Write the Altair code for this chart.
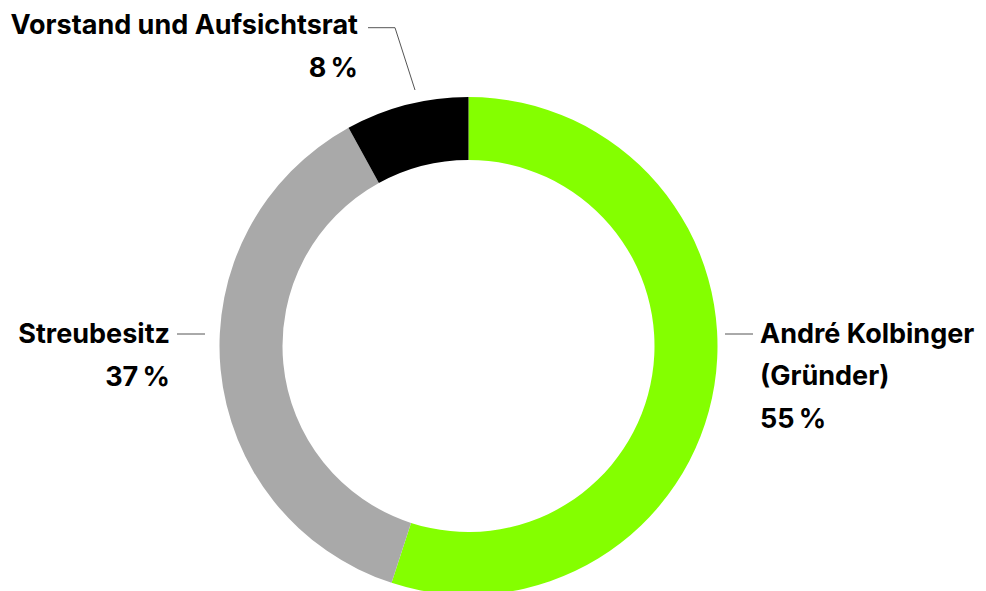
import altair as alt
import pandas as pd

# ---- data ----
categories = ["André Kolbinger (Gründer)", "Streubesitz", "Vorstand und Aufsichtsrat"]
shares = [55, 37, 8]
share_labels = ["55\u202f%", "37\u202f%", "8\u202f%"]
colors = ["#84ff00", "#a9a9a9", "#000000"]

# ---- layout (chart pixel coordinates, origin top-left of plot) ----
W, H = 970, 583
CX, CY = 460.5, 338
R_OUT, R_IN = 249, 186
FONT = "Inter"
FS = 27

# label lines: (text, x, baseline y, align)
label_lines = [
    ("Vorstand und Aufsichtsrat", 350, 26, "right"),
    (share_labels[2], 350, 69, "right"),
    ("Streubesitz", 162, 335, "right"),
    (share_labels[1], 162, 378, "right"),
    ("André Kolbinger", 752, 335, "left"),
    ("(Gründer)", 752, 377, "left"),
    (share_labels[0], 752, 420, "left"),
]
# leader lines: list of polylines
leaders = [
    [(360, 19.7), (387, 19.7), (407, 82)],
    [(169, 326), (197, 326)],
    [(717, 326), (745, 326)],
]

df = pd.DataFrame({"cat": categories, "share": shares, "order": list(range(len(categories)))})

xs = alt.Scale(domain=[0, W], range=[0, W])
ys = alt.Scale(domain=[0, H], range=[0, H])

donut = alt.Chart(df).mark_arc(outerRadius=R_OUT, innerRadius=R_IN, stroke=None).encode(
    theta=alt.Theta("share:Q", stack=True),
    order=alt.Order("order:Q"),
    color=alt.Color("cat:N", scale=alt.Scale(domain=categories, range=colors), legend=None),
    x=alt.value(CX),
    y=alt.value(CY),
)

tdf = pd.DataFrame(label_lines, columns=["text", "x", "y", "align"])
layers = [donut]
for al in ["left", "right"]:
    sub = tdf[tdf["align"] == al]
    layers.append(
        alt.Chart(sub).mark_text(
            align=al, baseline="alphabetic", font=FONT, fontSize=FS, fontWeight="bold", color="#000000"
        ).encode(
            x=alt.X("x:Q", scale=xs, axis=None),
            y=alt.Y("y:Q", scale=ys, axis=None),
            text="text:N",
        )
    )

rows = []
for i, pl in enumerate(leaders):
    for j, (x, y) in enumerate(pl):
        rows.append({"id": i, "o": j, "x": x, "y": y})
ldf = pd.DataFrame(rows)
lines = alt.Chart(ldf).mark_line(color="#555555", strokeWidth=1).encode(
    x=alt.X("x:Q", scale=xs, axis=None),
    y=alt.Y("y:Q", scale=ys, axis=None),
    detail="id:N",
    order="o:Q",
)
layers.append(lines)

chart = alt.layer(*layers).properties(
    width=W, height=H, padding=0, autosize=alt.AutoSizeParams(type="none")
).configure_view(stroke=None)

chart.save("out.html", embed_options={"renderer": "svg", "actions": False})
